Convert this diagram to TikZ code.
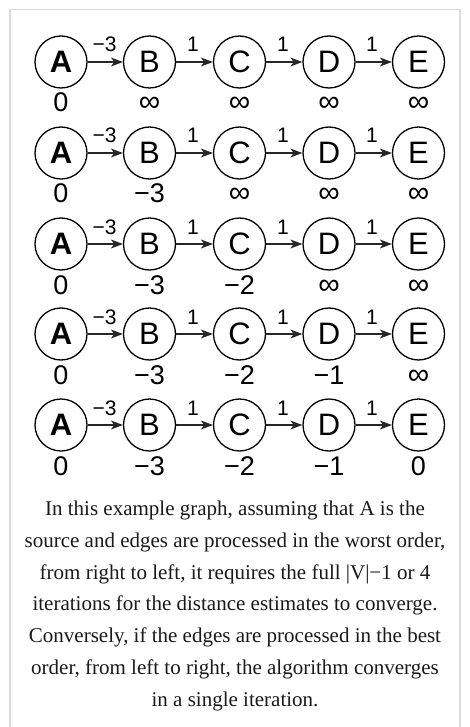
\documentclass[tikz,border=0pt]{standalone}
\usepackage{fontspec}
\setmainfont{Liberation Serif}
\newfontfamily\gsans{Liberation Sans}
\usetikzlibrary{arrows.meta}
\newcommand\infsym{{\fontsize{30}{27}\selectfont ∞}}
\begin{document}
\begin{tikzpicture}[x=1pt,y=-1pt,
 vert/.style={circle,draw,line width=1.3pt,minimum size=52pt,inner sep=0pt,font=\gsans\fontsize{31}{31}\selectfont},
 srcvert/.style={vert,font=\gsans\bfseries\fontsize{31}{31}\selectfont},
 wlab/.style={anchor=base,inner sep=0pt,font=\gsans\fontsize{21}{21}\selectfont},
 dlab/.style={anchor=base,inner sep=0pt,font=\gsans\fontsize{27}{27}\selectfont},
 conn/.style={line width=1.2pt,draw=black!85,-{Stealth[length=12pt,width=9pt,inset=3.5pt]}},
 captext/.style={anchor=base,inner sep=0pt,font=\fontsize{21}{21}\selectfont,text=black!90},
 boxframe/.style={draw=black!14,line width=1.5pt}]
\useasboundingbox (0,0) rectangle (469,727);
\draw[boxframe] (10,727) -- (10,9.5) -- (460,9.5) -- (460,727);
\foreach \r/\y/\da/\db/\dc/\dd/\de in {1/62/0/\infsym/\infsym/\infsym/\infsym, 2/153/0/−3/\infsym/\infsym/\infsym, 3/244/0/−3/−2/\infsym/\infsym, 4/334/0/−3/−2/−1/\infsym, 5/425/0/−3/−2/−1/0}{
  \node[srcvert] (A\r) at (61,\y) {A};
  \node[vert] (B\r) at (149.5,\y) {B};
  \node[vert] (C\r) at (239.5,\y) {C};
  \node[vert] (D\r) at (329,\y) {D};
  \node[vert] (E\r) at (418.5,\y) {E};
  \draw[conn] (A\r) -- (B\r);
  \draw[conn] (B\r) -- (C\r);
  \draw[conn] (C\r) -- (D\r);
  \draw[conn] (D\r) -- (E\r);
  \node[wlab] (wab\r) at (104.5,\y-10) {−3};
  \node[wlab] (wbc\r) at (193,\y-10) {1};
  \node[wlab] (wcd\r) at (283,\y-10) {1};
  \node[wlab] (wde\r) at (372,\y-10) {1};
  \node[dlab] (da\r) at (61,\y+50) {\da};
  \node[dlab] (db\r) at (149.5,\y+50) {\db};
  \node[dlab] (dc\r) at (239.5,\y+50) {\dc};
  \node[dlab] (dd\r) at (329,\y+50) {\dd};
  \node[dlab] (de\r) at (418.5,\y+50) {\de};
}
\foreach \i/\t in {0/{In this example graph, assuming that A is the},
  1/{source and edges are processed in the worst order,},
  2/{from right to left, it requires the full |V|−1 or 4},
  3/{iterations for the distance estimates to converge.},
  4/{Conversely, if the edges are processed in the best},
  5/{order, from left to right, the algorithm converges},
  6/{in a single iteration.}}{
  \node[captext] (cap\i) at (235,515.5+31.8*\i) {\t};
}
\end{tikzpicture}
\end{document}
